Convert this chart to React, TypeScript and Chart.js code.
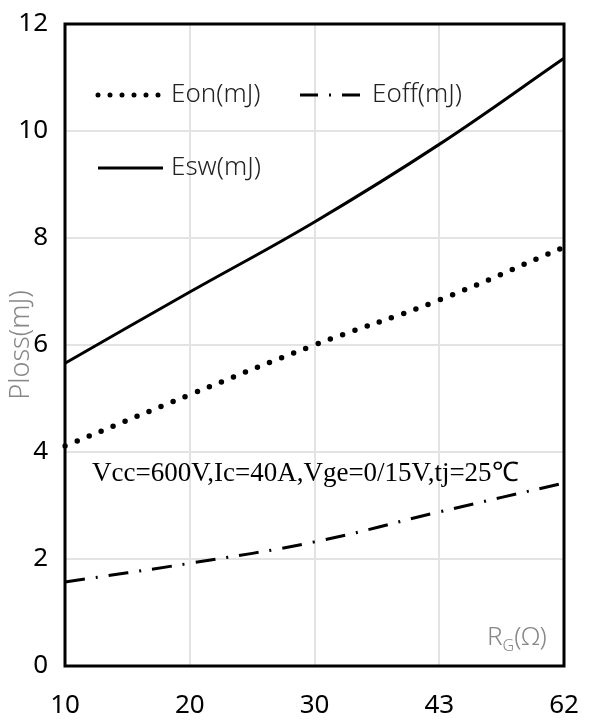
import React, { useEffect, useRef } from "react";
import { Chart, registerables } from "chart.js";

Chart.register(...registerables);

const categories = ["10", "20", "30", "43", "62"];
const eonValues = [4.11, 5.07, 6.0, 6.84, 7.83];
const eoffValues = [1.57, 1.92, 2.32, 2.88, 3.42];
const eswValues = [5.66, 6.99, 8.3, 9.75, 11.36];
const seriesNames = ["Eon(mJ)", "Eoff(mJ)", "Esw(mJ)"];
const yTitle = "Ploss(mJ)";
const xTitleMain = "R";
const xTitleSub = "G";
const xTitleTail = "(Ω)";
const noteText = "Vcc=600V,Ic=40A,Vge=0/15V,tj=25℃";

const SANS = "'Noto Sans', 'Open Sans', sans-serif";

const overlayPlugin = {
  id: "overlay",
  afterDraw(chart: any) {
    const ctx = chart.ctx as CanvasRenderingContext2D;
    const a = chart.chartArea;
    ctx.save();
    // frame
    ctx.strokeStyle = "#000";
    ctx.lineWidth = 3;
    ctx.strokeRect(a.left, a.top, a.right - a.left, a.bottom - a.top);

    // legend
    const row1 = 95;
    const row2 = 168;
    ctx.lineWidth = 5;
    ctx.lineCap = "round";
    ctx.setLineDash([0, 12]);
    ctx.beginPath();
    ctx.moveTo(98, row1);
    ctx.lineTo(160, row1);
    ctx.stroke();

    ctx.lineCap = "butt";
    ctx.lineWidth = 3;
    ctx.setLineDash([18, 11, 2, 11]);
    ctx.beginPath();
    ctx.moveTo(300, row1);
    ctx.lineTo(363, row1);
    ctx.stroke();

    ctx.setLineDash([]);
    ctx.beginPath();
    ctx.moveTo(98, row2);
    ctx.lineTo(163, row2);
    ctx.stroke();

    ctx.fillStyle = "#222";
    ctx.font = `300 26px ${SANS}`;
    ctx.textBaseline = "middle";
    ctx.textAlign = "left";
    ctx.fillText(seriesNames[0], 171, row1);
    ctx.fillText(seriesNames[1], 372, row1);
    ctx.fillText(seriesNames[2], 171, row2);

    // note
    ctx.fillStyle = "#000";
    ctx.font = "27px 'Liberation Serif', 'Times New Roman', serif";
    ctx.textAlign = "left";
    ctx.fillText(noteText, 92, 474);

    // x title
    ctx.fillStyle = "#888";
    ctx.font = `300 26px ${SANS}`;
    let x = 487;
    const y = 638;
    ctx.fillText(xTitleMain, x, y);
    x += ctx.measureText(xTitleMain).width;
    ctx.font = `300 16px ${SANS}`;
    ctx.fillText(xTitleSub, x, y + 8);
    x += ctx.measureText(xTitleSub).width;
    ctx.font = `300 26px ${SANS}`;
    ctx.fillText(xTitleTail, x, y);

    // y title
    ctx.translate(21, 345);
    ctx.rotate(-Math.PI / 2);
    ctx.textAlign = "center";
    ctx.fillStyle = "#888";
    ctx.font = `300 27px ${SANS}`;
    ctx.fillText(yTitle, 0, 0);
    ctx.restore();
  },
};

export default function App() {
  const ref = useRef<HTMLCanvasElement | null>(null);
  useEffect(() => {
    if (!ref.current) return;
    const chart = new Chart(ref.current, {
      type: "line",
      data: {
        labels: categories,
        datasets: [
          {
            label: seriesNames[0],
            data: eonValues,
            borderColor: "#000",
            borderWidth: 5.5,
            borderDash: [0, 13],
            borderCapStyle: "round",
            pointRadius: 0,
            tension: 0.4,
            fill: false,
          },
          {
            label: seriesNames[1],
            data: eoffValues,
            borderColor: "#000",
            borderWidth: 3,
            borderDash: [20, 11, 2, 11],
            pointRadius: 0,
            tension: 0.4,
            fill: false,
          },
          {
            label: seriesNames[2],
            data: eswValues,
            borderColor: "#000",
            borderWidth: 3,
            pointRadius: 0,
            tension: 0.4,
            fill: false,
          },
        ],
      },
      options: {
        animation: false,
        responsive: false,
        layout: { padding: { top: 24, right: 36, left: 0, bottom: 0 } },
        plugins: { legend: { display: false }, tooltip: { enabled: false } },
        scales: {
          x: {
            type: "category",
            offset: false,
            grid: { color: "#e3e3e3", lineWidth: 2, drawTicks: false },
            border: { display: false },
            ticks: {
              color: "#000",
              font: { family: SANS, size: 26 },
              padding: 24,
              maxRotation: 0,
            },
            afterFit(scale: any) {
              scale.height = 58;
              scale.paddingLeft = 0;
              scale.paddingRight = 0;
            },
          },
          y: {
            min: 0,
            max: 12,
            grid: { color: "#e3e3e3", lineWidth: 2, drawTicks: false },
            border: { display: false },
            ticks: {
              stepSize: 2,
              color: "#000",
              font: { family: SANS, size: 26 },
              padding: 17,
            },
            afterFit(scale: any) {
              scale.width = 65;
              scale.paddingTop = 0;
              scale.paddingBottom = 0;
            },
          },
        },
      },
      plugins: [overlayPlugin],
    });
    return () => chart.destroy();
  }, []);
  return (
    <div style={{ position: "absolute", left: 0, top: 0, width: 600, height: 724, background: "#fff" }}>
      <canvas ref={ref} width={600} height={724} style={{ width: 600, height: 724, display: "block" }} />
    </div>
  );
}
